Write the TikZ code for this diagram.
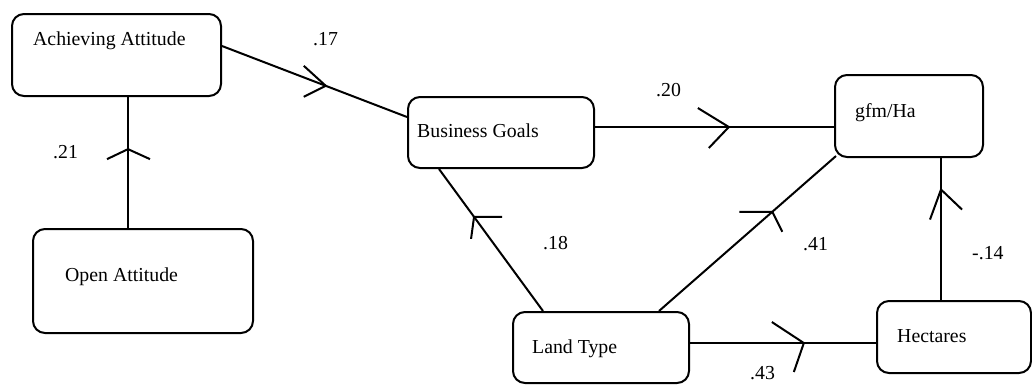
\documentclass[tikz,border=0pt]{standalone}
\usepackage{fontspec}
\setmainfont{Liberation Serif}
\usetikzlibrary{calc}
\begin{document}
\begin{tikzpicture}[x=1pt,y=-1pt,
  box/.style={draw, line width=2pt, rounded corners=12pt, anchor=north west, inner sep=0pt},
  boxtext/.style={anchor=base west, inner sep=0pt, font=\fontsize{19.8}{23}\selectfont},
  coef/.style={anchor=base west, inner sep=0pt, font=\fontsize{19.8}{23}\selectfont},
  link/.style={line width=2pt},
  barb/.style={line width=2pt, line join=miter, line cap=butt}]
\useasboundingbox (0,0) rectangle (1032,384);

% variables
\node[box, minimum width=209pt, minimum height=82pt] (aa) at (11,13) {};
\node[box, minimum width=220pt, minimum height=104pt] (oa) at (32,228) {};
\node[box, minimum width=186pt, minimum height=71pt] (bg) at (407,96) {};
\node[box, minimum width=148pt, minimum height=82pt] (gf) at (834,74) {};
\node[box, minimum width=176pt, minimum height=71pt] (lt) at (512,311) {};
\node[box, minimum width=154pt, minimum height=72pt] (he) at (876,300) {};

\node[boxtext] (aa-t) at (33,45) {Achieving Attitude};
\node[boxtext] (oa-t) at (65,281) {Open Attitude};
\node[boxtext] (bg-t) at (417,137) {Business Goals};
\node[boxtext] (gf-t) at (855,117) {gfm/Ha};
\node[boxtext] (lt-t) at (532,353) {Land Type};
\node[boxtext] (he-t) at (897,342) {Hectares};

% paths with their mid-line barbs
\draw[link] ([yshift=9pt]aa.east) -- coordinate[pos=0.561] (t1) ([yshift=15.5pt]bg.west);
\draw[barb] (t1) ++(-22,-20) -- (t1) -- ++(-22,11);

\draw[link] ([xshift=-15pt]oa.north) -- coordinate[pos=0.602] (t2) ([xshift=-15pt]oa.north |- aa.south);
\draw[barb] (t2) ++(-21,10) -- (t2) -- ++(22,10);

\draw[link] ([yshift=5.5pt]bg.east) -- coordinate[pos=0.560] (t3) ([yshift=5.5pt]bg.east -| gf.west);
\draw[barb] (t3) ++(-31,-19) -- (t3) -- ++(-20,21);

\draw[link] ([xshift=-58pt]lt.north) -- coordinate[pos=0.663] (t4) ([xshift=-62pt]bg.south);
\draw[barb] (t4) ++(28,0) -- (t4) -- ++(-3,22);

\draw[link] ([xshift=58pt]lt.north) -- coordinate[pos=0.640] (t5) ([xshift=2pt,yshift=2pt]gf.south west);
\draw[barb] (t5) ++(-33,0) -- (t5) -- ++(10,20);

\draw[link] ([yshift=4.5pt]lt.east) -- coordinate[pos=0.612] (t6) ([yshift=4.5pt]lt.east -| he.west);
\draw[barb] (t6) ++(-32,-21) -- (t6) -- ++(-10,29);

\draw[link] ([xshift=-13pt]he.north) -- coordinate[pos=0.778] (t7) ([xshift=-13pt]he.north |- gf.south);
\draw[barb] (t7) ++(-11,30) -- (t7) -- ++(21,20);

% path coefficients
\node[coef] (c17) at (313,45) {.17};
\node[coef] (c21) at (53,158) {.21};
\node[coef] (c20) at (656,96) {.20};
\node[coef] (c18) at (543,249) {.18};
\node[coef] (c41) at (803,250) {.41};
\node[coef] (c14) at (972,259) {-.14};
\node[coef] (c43) at (750,379) {.43};
\end{tikzpicture}
\end{document}
